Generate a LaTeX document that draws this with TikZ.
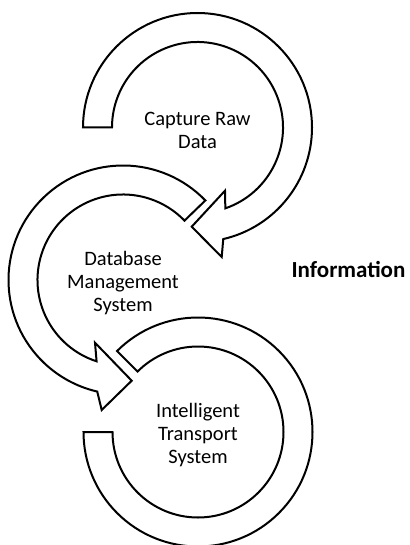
\documentclass[tikz,border=0pt]{standalone}
\usepackage{fontspec}
\setmainfont{Carlito}
\usetikzlibrary{calc}
\begin{document}
\begin{tikzpicture}[x=1pt,y=1pt,
  ring/.style={draw=black, fill=white, line width=2pt, line join=miter, miter limit=10},
  stagelabel/.style={font=\fontsize{20.5}{23}\selectfont, align=center, inner sep=0pt},
  sidelabel/.style={font=\fontsize{23}{26}\selectfont\bfseries, inner sep=0pt, anchor=base}]
\useasboundingbox (0,0) rectangle (409,-545);

% ring centres
\coordinate (c1) at (197.5,-127.5);
\coordinate (c2) at (123,-280);
\coordinate (c3) at (198,-432);

% arrow head corners
\coordinate (h1low) at (221.7,-257);
\coordinate (h1tip) at (191.7,-226.7);
\coordinate (h1up)  at (225,-190.7);
\coordinate (h2low) at (101.7,-410);
\coordinate (h2tip) at (131.7,-380.7);
\coordinate (h2up)  at (95,-342.7);

% first ring: clockwise, head pointing into the second ring
\draw[ring] ($(c1)+(180:114.5)$) arc[start angle=180, end angle=-77, radius=114.5]
  -- (h1low) -- (h1tip) -- (h1up)
  -- ($(c1)+(-71:85.5)$) arc[start angle=-71, end angle=180, radius=85.5] -- cycle;

% second ring: counter-clockwise, head pointing into the third ring
\draw[ring] ($(c2)+(44:114.5)$) arc[start angle=44, end angle=257, radius=114.5]
  -- (h2low) -- (h2tip) -- (h2up)
  -- ($(c2)+(252:85.5)$) arc[start angle=252, end angle=44, radius=85.5] -- cycle;

% third ring: plain band, no head
\draw[ring] ($(c3)+(135:114.5)$) arc[start angle=135, end angle=-180, radius=114.5]
  -- ($(c3)+(-180:85.5)$) arc[start angle=-180, end angle=135, radius=85.5] -- cycle;

\node[stagelabel] (capture) at ($(c1)+(0,-2.5)$) {Capture Raw\\Data};
\node[stagelabel] (dbms) at ($(c2)+(0,-3)$) {Database\\Management\\System};
\node[stagelabel] (its) at ($(c3)+(0,-3)$) {Intelligent\\Transport\\System};
\node[sidelabel] (info) at (348.5,-277) {Information};
\end{tikzpicture}
\end{document}
